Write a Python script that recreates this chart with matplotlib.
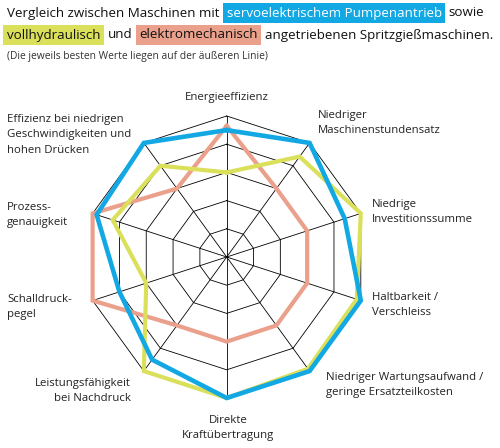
import numpy as np
import matplotlib
matplotlib.use("Agg")
import matplotlib.pyplot as plt

plt.rcParams['font.family'] = ['Open Sans', 'DejaVu Sans']

# Kriterien im Uhrzeigersinn, beginnend oben
kriterien = ["Energieeffizienz",
             "Niedriger\nMaschinenstundensatz",
             "Niedrige\nInvestitionssumme",
             "Haltbarkeit /\nVerschleiss",
             "Niedriger Wartungsaufwand /\ngeringe Ersatzteilkosten",
             "Direkte\nKraftübertragung",
             "Leistungsfähigkeit\nbei Nachdruck",
             "Schalldruck-\npegel",
             "Prozess-\ngenauigkeit",
             "Effizienz bei niedrigen\nGeschwindigkeiten und\nhohen Drücken"]

servo = [0.90, 1.00, 0.88, 1.00, 1.00, 1.00, 0.90, 0.80, 0.97, 1.00]
hydraulisch = [0.60, 0.88, 1.00, 0.97, 0.98, 1.00, 1.00, 0.60, 0.85, 0.80]
elektro = [0.93, 0.60, 0.60, 0.60, 0.60, 0.60, 0.60, 1.00, 1.00, 0.60]

ringe = [0.2, 0.4, 0.6, 0.8, 1.0]

BLAU = "#12a8e4"
GELB = "#dbe05a"
ROT = "#eaa08b"

W, H = 500, 448
fig = plt.figure(figsize=(W / 100, H / 100), dpi=100)

# Radar in kartesischen Koordinaten
cx, cy, rad = 226.7, 448 - 257, 141.0
lim = 1.05
ax = fig.add_axes([(cx - rad * lim) / W, (cy - rad * lim) / H,
                   2 * rad * lim / W, 2 * rad * lim / H])
ax.set_xlim(-lim, lim)
ax.set_ylim(-lim, lim)
ax.axis("off")

n = len(kriterien)
winkel = np.arange(n) * 2 * np.pi / n


def to_xy(werte):
    w = np.append(werte, werte[0])
    t = np.append(winkel, winkel[0])
    return w * np.sin(t), w * np.cos(t)


for r in ringe:
    x, y = to_xy(np.full(n, r))
    ax.plot(x, y, color="black", lw=0.6, zorder=1)
for t in winkel:
    ax.plot([0, np.sin(t)], [0, np.cos(t)], color="black", lw=0.6, zorder=1)

for werte, farbe, lw in [(elektro, ROT, 3.0), (hydraulisch, GELB, 3.0), (servo, BLAU, 3.3)]:
    x, y = to_xy(werte)
    ax.plot(x, y, color=farbe, lw=lw, solid_joinstyle="miter", zorder=3)

# Beschriftungen der Achsen (Pixelpositionen)
label_pos = [(227, 97, "center"), (318, 123, "left"), (372, 212, "left"),
             (372, 305, "left"), (326, 385, "left"), (228, 428, "center"),
             (131, 391, "right"), (7, 307, "left"), (7, 215, "left"),
             (7, 135, "left")]
for txt, (px, py, ha) in zip(kriterien, label_pos):
    fig.text(px / W, 1 - py / H, txt, ha=ha, va="center", fontsize=8.2,
             color="#222222", linespacing=1.55, multialignment=ha)

# Titel mit farbig hinterlegten Begriffen
renderer = fig.canvas.get_renderer()
titel = [
    [("Vergleich zwischen Maschinen mit", None, "#111111"),
     ("servoelektrischem Pumpenantrieb", BLAU, "white"),
     ("sowie", None, "#111111")],
    [("vollhydraulisch", GELB, "#111111"),
     ("und", None, "#111111"),
     ("elektromechanisch", ROT, "#111111"),
     ("angetriebenen Spritzgießmaschinen.", None, "#111111")],
]

# Schriftgroesse so waehlen, dass Zeile 1 etwa 485 px breit wird
probe = fig.text(0, 0, " ".join(s for s, _, _ in titel[0]), fontsize=10)
fs = 10 * 472 / probe.get_window_extent(renderer).width
probe.set_fontsize(fs)
probe.set_text("a a")
w1 = probe.get_window_extent(renderer).width
probe.set_text("aa")
w2 = probe.get_window_extent(renderer).width
probe.remove()
space = w1 - w2
pad = 2.6  # Punkte
pad_px = pad * 100 / 72

for zeile, py in zip(titel, [13, 35]):
    px = 7
    for i, (txt, bg, fg) in enumerate(zeile):
        kw = {}
        if bg:
            kw["bbox"] = dict(facecolor=bg, edgecolor="none", pad=pad)
            if i > 0:
                px += pad_px
        t = fig.text(px / W, 1 - py / H, txt, fontsize=fs, color=fg,
                     va="center", ha="left", **kw)
        px += t.get_window_extent(renderer).width + space
        if bg:
            px += pad_px

fig.text(7 / W, 1 - 56 / H, "(Die jeweils besten Werte liegen auf der äußeren Linie)",
         fontsize=7.4, color="#333333", va="center", ha="left")

fig.savefig("out.png", dpi=100)
